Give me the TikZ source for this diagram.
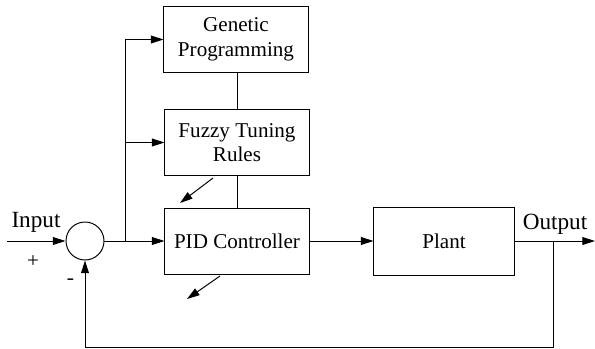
\documentclass[tikz,border=0pt]{standalone}
\usepackage{fontspec}
\setmainfont{Liberation Serif}
\newfontfamily\timesfont{Liberation Serif}
\usetikzlibrary{arrows.meta}

\begin{document}
\begin{tikzpicture}[x=0.025cm, y=-0.025cm,
  every path/.style={line width=0.7pt},
  block/.style={draw, rectangle, minimum width=3.6cm, minimum height=1.67cm,
    align=center, inner sep=0pt, font=\timesfont\fontsize{15}{17.5}\selectfont},
  sumnode/.style={draw, circle, minimum size=0.95cm, inner sep=0pt},
  tip/.style={-{Triangle[length=9pt, width=5.6pt]}},
  lbl/.style={font=\timesfont\fontsize{16.5}{18}\selectfont, inner sep=0pt}]
  \useasboundingbox (0,0) rectangle (595,349);
  % blocks
  \node[block] (gp) at (236,39.5) {Genetic\\Programming};
  \node[block] (ftr) at (237,142.5) {Fuzzy Tuning\\Rules};
  \node[block, minimum height=1.65cm] (pid) at (237,241) {PID Controller};
  \node[block, minimum width=3.5cm, minimum height=1.72cm] (plant) at (444,241.5) {Plant};
  \node[sumnode] (sum) at (85,241) {};
  % free ends
  \coordinate (in) at (7,241);
  \coordinate (br) at (125,241);
  \coordinate (out) at (595,241);
  \coordinate (tap) at (553,241);
  \coordinate (fb) at (553,347);
  \coordinate (d1s) at (213,178);
  \coordinate (d1e) at (180,203);
  \coordinate (d2s) at (220,276);
  \coordinate (d2e) at (187,299);
  % labels
  \node[lbl] (inlbl) at (36,222) {Input};
  \node[lbl] (outlbl) at (555,224) {Output};
  \node[lbl, font=\timesfont\fontsize{15}{16}\selectfont] (plus) at (33,262) {+};
  \node[lbl, font=\sffamily\bfseries\fontsize{15}{16}\selectfont] (minus) at (71,282) {-};
  % connectors
  \draw[tip] (in) -- (sum);
  \draw[tip] (sum) -- (pid);
  \draw[tip] (br) |- (gp.west);
  \draw[tip] (br) |- (ftr.west);
  \draw (gp.south -| ftr.north) -- (ftr.north);
  \draw (ftr.south) -- (pid.north);
  \draw[tip] (pid) -- (pid -| plant.west);
  \draw[tip] (plant.east |- out) -- (out);
  \draw[tip] (tap) -- (fb) -| (sum.south);
  \draw[tip] (d1s) -- (d1e);
  \draw[tip] (d2s) -- (d2e);
\end{tikzpicture}
\end{document}
